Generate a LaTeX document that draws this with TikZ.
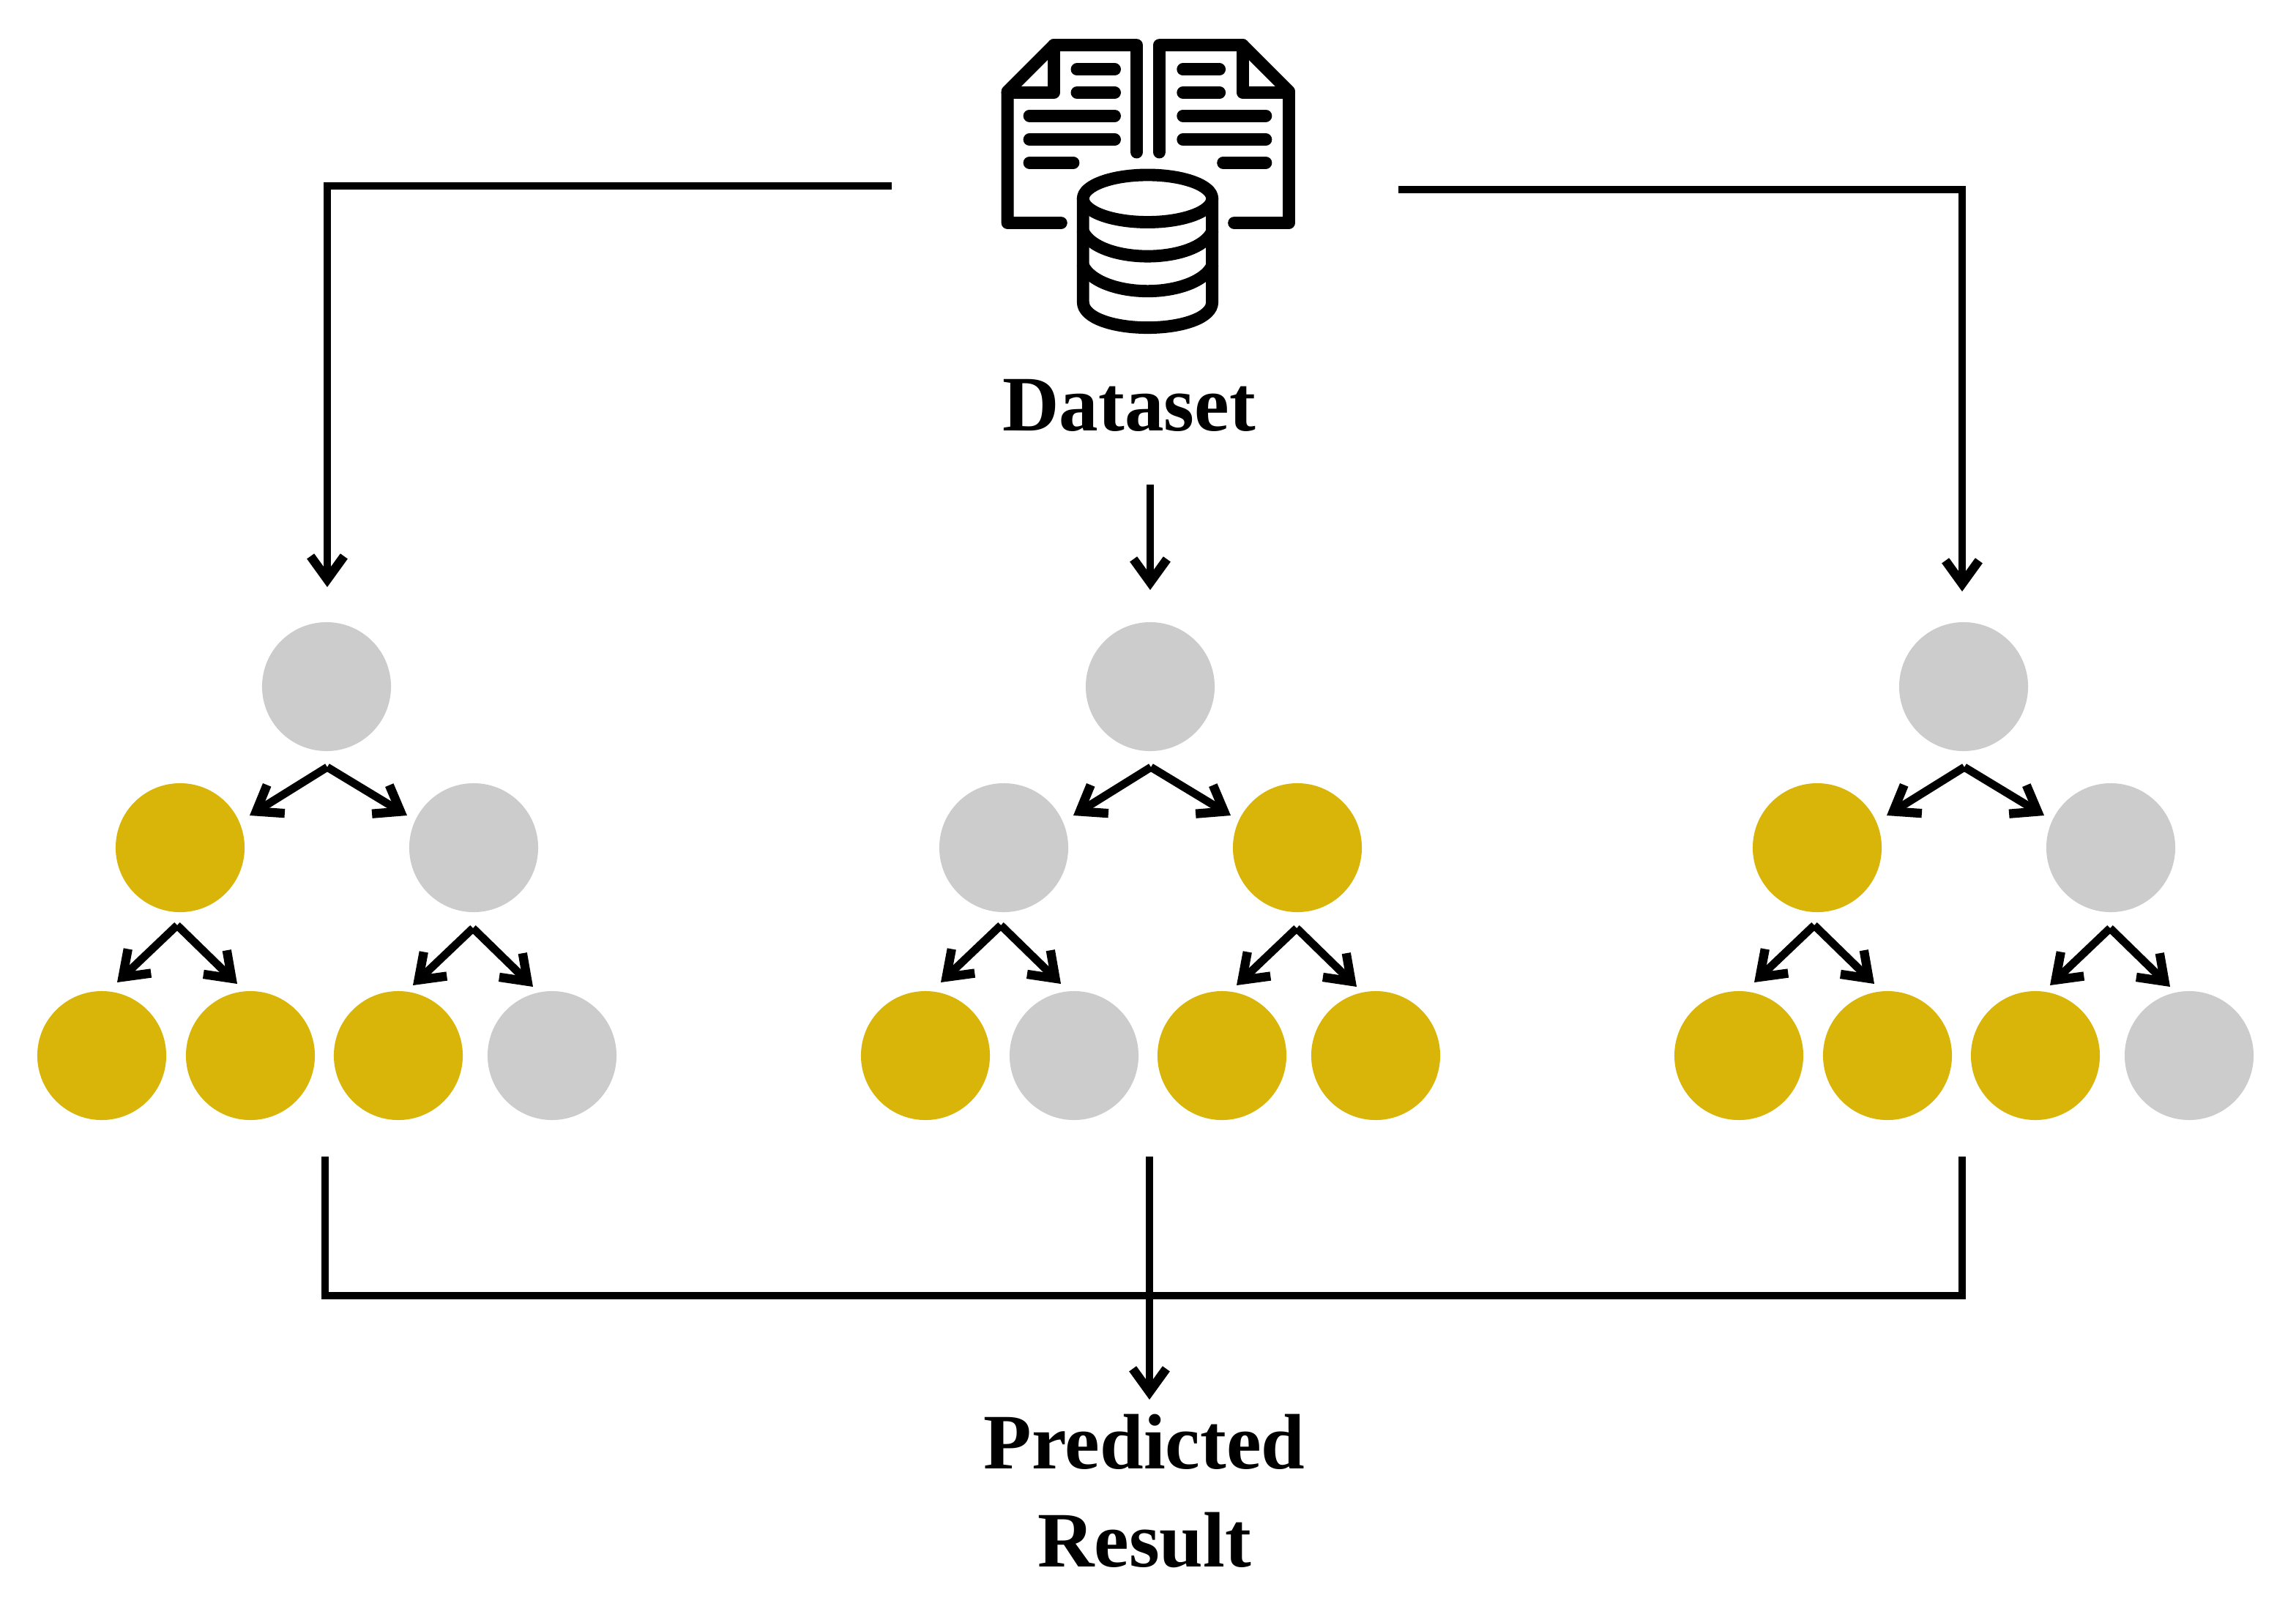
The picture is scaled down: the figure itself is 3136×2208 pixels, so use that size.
\documentclass[tikz,border=0pt]{standalone}
\usepackage{fontspec}
\setmainfont{Liberation Serif}
\usetikzlibrary{arrows.meta}
\definecolor{gold}{RGB}{216,181,8}
\definecolor{soft}{RGB}{204,204,204}
\tikzset{
  px/.style={x=0.01cm,y=-0.01cm},
  dot/.style={circle,minimum size=1.76cm,inner sep=0pt,outer sep=0pt},
  golddot/.style={dot,fill=gold},
  softdot/.style={dot,fill=soft},
  wire/.style={line width=3.1pt,black,line join=miter},
  arr/.style={wire,-{Straight Barb[length=9pt,width=13pt,line width=3.5pt]}},
  icon/.style={line width=4.8pt,black,line join=round,line cap=round},
  iconthin/.style={line width=4.8pt,black,line cap=round},
  label/.style={font=\bfseries\fontsize{30.5}{37.9}\selectfont,align=center,inner sep=0pt},
}
% #1 name, #2 apex, #3 left tip, #4 right tip
\newcommand{\forkarrows}[4]{
  \coordinate (#1a) at #2;
  \coordinate (#1l) at #3;
  \coordinate (#1r) at #4;
  \draw[arr] (#1a) -- (#1l);
  \draw[arr] (#1a) -- (#1r);
}
% #1 name, #2 shift, #3..#8 node styles
\newcommand{\tree}[8]{
\begin{scope}[shift={(#2,0)}]
  \node[softdot] (#1root) at (446,938) {};
  \node[#3] (#1L) at (246,1158) {};
  \node[#4] (#1R) at (647,1158) {};
  \node[#5] (#1LL) at (139,1442) {};
  \node[#6] (#1LR) at (342,1442) {};
  \node[#7] (#1RL) at (544,1442) {};
  \node[#8] (#1RR) at (754,1442) {};
  \forkarrows{#1f}{(447,1048)}{(341,1114)}{(556,1114)}
  \forkarrows{#1g}{(242,1264)}{(160,1342)}{(324,1344)}
  \forkarrows{#1h}{(646,1268)}{(564,1346)}{(728,1348)}
\end{scope}
}
\begin{document}
\begin{tikzpicture}[px]
\useasboundingbox (0,0) rectangle (3136,2208);
\fill[white] (0,0) rectangle (3136,2208);

\tree{a}{0}{golddot}{softdot}{golddot}{golddot}{golddot}{softdot}
\tree{b}{1125}{softdot}{golddot}{golddot}{softdot}{golddot}{golddot}
\tree{c}{2236}{golddot}{softdot}{golddot}{golddot}{golddot}{softdot}

% dataset icon
\begin{scope}[x=0.0033333cm,y=-0.0033333cm,shift={(4020,90)}]
  \draw[icon] (645,535) -- (645,95) -- (305,95) -- (115,285) -- (115,825) -- (335,825);
  \draw[icon] (305,95) -- (305,290) -- (115,290);
  \draw[icon] (738,535) -- (738,95) -- (1080,95) -- (1270,285) -- (1270,825) -- (1045,825);
  \draw[icon] (1080,95) -- (1080,290) -- (1270,290);
  \foreach \xa/\xb/\yy in {400/555/195,400/555/290,205/555/385,205/555/483,205/385/578,
                           835/985/195,835/985/290,835/1175/385,835/1175/483,1000/1175/578}
    \draw[iconthin] (\xa,\yy) -- (\xb,\yy);
  \draw[icon] (690,725) ellipse [x radius=265,y radius=97];
  \draw[icon] (425,725) -- (425,1150) .. controls (425,1215) and (550,1255) .. (690,1255)
     .. controls (830,1255) and (955,1215) .. (955,1150) -- (955,725);
  \draw[icon] (425,860) .. controls (455,925) and (570,962) .. (690,962)
     .. controls (810,962) and (925,925) .. (955,860);
  \draw[icon] (425,1000) .. controls (455,1065) and (570,1105) .. (690,1105)
     .. controls (810,1105) and (925,1065) .. (955,1000);
\end{scope}

\node[label] (dataset) at (1542,554) {Dataset};
\node[label] (result) at (1563,2037) {Predicted\\Result};

% dataset to trees
\coordinate (topL) at (1218,254);
\coordinate (topLc) at (447,254);
\coordinate (tipL) at (447,802);
\coordinate (topR) at (1910,259);
\coordinate (topRc) at (2680,259);
\coordinate (tipR) at (2680,808);
\coordinate (midS) at (1571,662);
\coordinate (midT) at (1571,806);
\draw[arr] (topL) -- (topLc) -- (tipL);
\draw[arr] (topR) -- (topRc) -- (tipR);
\draw[arr] (midS) -- (midT);

% trees to result
\coordinate (botL) at (444,1580);
\coordinate (botLc) at (444,1770);
\coordinate (botR) at (2680,1580);
\coordinate (botRc) at (2680,1770);
\coordinate (botM) at (1570,1580);
\coordinate (botT) at (1570,1912);
\draw[wire] (botL) -- (botLc) -- (botRc) -- (botR);
\draw[arr] (botM) -- (botT);
\end{tikzpicture}
\end{document}
